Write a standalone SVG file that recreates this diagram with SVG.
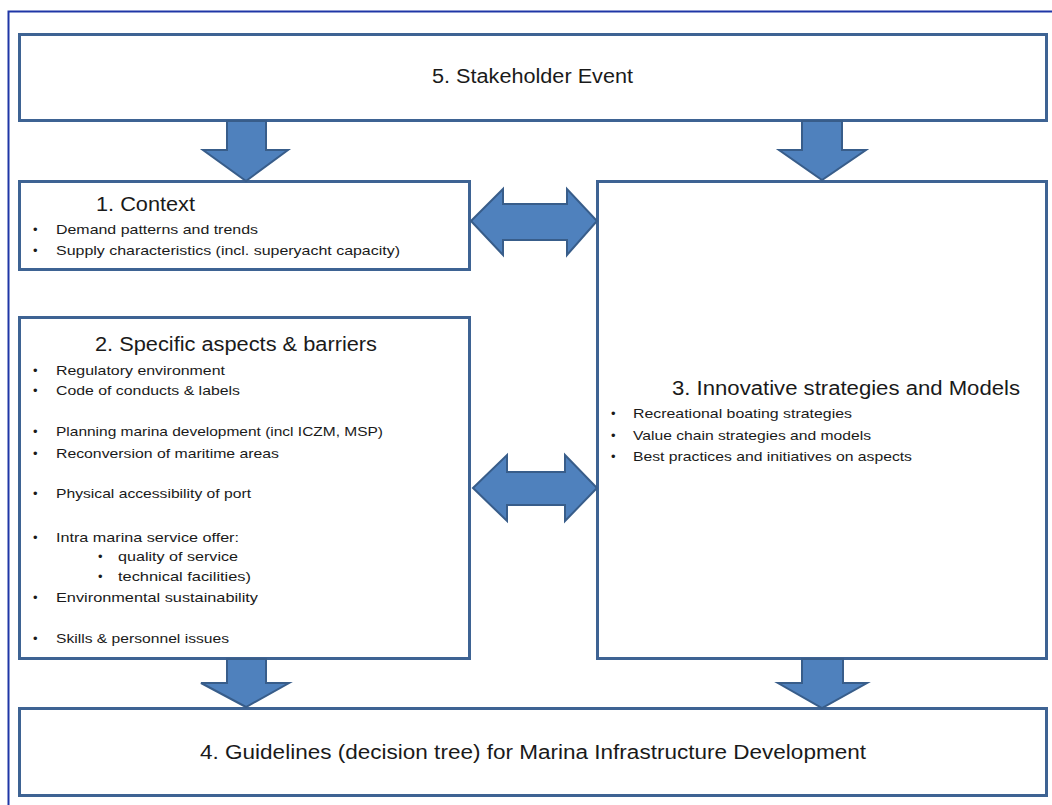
<svg xmlns="http://www.w3.org/2000/svg" width="1052" height="805" viewBox="0 0 1052 805">
<style>
.box{fill:#fff;stroke:#3E6393;stroke-width:3}
.arr{fill:#4F81BD;stroke:#385D8A;stroke-width:2;stroke-linejoin:miter}
.t{font-family:"Liberation Sans",Arial,sans-serif;fill:#1a1a1a}
.h{font-size:20px}
.b{font-size:13px}
</style>
<rect width="1052" height="805" fill="#fff"/>
<rect x="8.5" y="11.5" width="1100" height="900" fill="none" stroke="#1F36A6" stroke-width="2"/>
<g id="node5">
<rect class="box" x="19.5" y="34.5" width="1027" height="86"/>
<text class="t h" x="432" y="83" textLength="201" lengthAdjust="spacingAndGlyphs">5. Stakeholder Event</text>
</g>
<g id="node1">
<rect class="box" x="19.5" y="181.5" width="450" height="88"/>
<text class="t h" x="96" y="211" textLength="99" lengthAdjust="spacingAndGlyphs">1. Context</text>
<text class="t b" x="33" y="234">•</text>
<text class="t b" x="56" y="234" textLength="202" lengthAdjust="spacingAndGlyphs">Demand  patterns and trends</text>
<text class="t b" x="33" y="255">•</text>
<text class="t b" x="56" y="255" textLength="344" lengthAdjust="spacingAndGlyphs">Supply characteristics  (incl. superyacht capacity)</text>
</g>
<g id="node2">
<rect class="box" x="19.5" y="317.5" width="450" height="341"/>
<text class="t h" x="95" y="351" textLength="282" lengthAdjust="spacingAndGlyphs">2. Specific aspects &amp; barriers</text>
<text class="t b" x="33" y="375">•</text><text class="t b" x="56" y="375" textLength="169" lengthAdjust="spacingAndGlyphs">Regulatory environment</text>
<text class="t b" x="33" y="395">•</text><text class="t b" x="56" y="395" textLength="184" lengthAdjust="spacingAndGlyphs">Code of conducts &amp; labels</text>
<text class="t b" x="33" y="436">•</text><text class="t b" x="56" y="436" textLength="327" lengthAdjust="spacingAndGlyphs">Planning marina development  (incl ICZM, MSP)</text>
<text class="t b" x="33" y="458">•</text><text class="t b" x="56" y="458" textLength="223" lengthAdjust="spacingAndGlyphs">Reconversion of maritime areas</text>
<text class="t b" x="33" y="498">•</text><text class="t b" x="56" y="498" textLength="195" lengthAdjust="spacingAndGlyphs">Physical accessibility of port</text>
<text class="t b" x="33" y="542">•</text><text class="t b" x="56" y="542" textLength="183" lengthAdjust="spacingAndGlyphs">Intra marina service offer:</text>
<text class="t b" x="98" y="561">•</text><text class="t b" x="118" y="561" textLength="120" lengthAdjust="spacingAndGlyphs">quality of service</text>
<text class="t b" x="98" y="581">•</text><text class="t b" x="118" y="581" textLength="133" lengthAdjust="spacingAndGlyphs">technical facilities)</text>
<text class="t b" x="33" y="602">•</text><text class="t b" x="56" y="602" textLength="202" lengthAdjust="spacingAndGlyphs">Environmental sustainability</text>
<text class="t b" x="33" y="643">•</text><text class="t b" x="56" y="643" textLength="173" lengthAdjust="spacingAndGlyphs">Skills &amp; personnel issues</text>
</g>
<g id="node3">
<rect class="box" x="597.5" y="181.5" width="449" height="477"/>
<text class="t h" x="672" y="395" textLength="348" lengthAdjust="spacingAndGlyphs">3. Innovative strategies and Models</text>
<text class="t b" x="611" y="418">•</text><text class="t b" x="633" y="418" textLength="219" lengthAdjust="spacingAndGlyphs">Recreational boating strategies</text>
<text class="t b" x="611" y="440">•</text><text class="t b" x="633" y="440" textLength="238" lengthAdjust="spacingAndGlyphs">Value chain strategies and models</text>
<text class="t b" x="611" y="461">•</text><text class="t b" x="633" y="461" textLength="279" lengthAdjust="spacingAndGlyphs">Best practices and initiatives on aspects</text>
</g>
<g id="node4">
<rect class="box" x="19.5" y="708.5" width="1027" height="87"/>
<text class="t h" x="200" y="759" textLength="666" lengthAdjust="spacingAndGlyphs">4. Guidelines (decision tree) for Marina Infrastructure Development</text>
</g>
<g id="connectors">
<polygon class="arr" points="227,121 266,121 266,150 288,150 246,181 203,150 227,150"/>
<polygon class="arr" points="802,121 842,121 842,150 866,150 822,180 779,150 802,150"/>
<polygon class="arr" points="227,659 266,659 266,683 289,683 246,707 201,683 227,683"/>
<polygon class="arr" points="802,659 843,659 843,683 867,683 822,708 778,683 802,683"/>
<polygon class="arr" points="471,221 503,189 503,204 567,204 567,189 597,221 567,255 567,240 503,240 503,255"/>
<polygon class="arr" points="473,488 507,455 507,472 565,472 565,455 597,488 565,521 565,505 507,505 507,521"/>
</g>
</svg>
